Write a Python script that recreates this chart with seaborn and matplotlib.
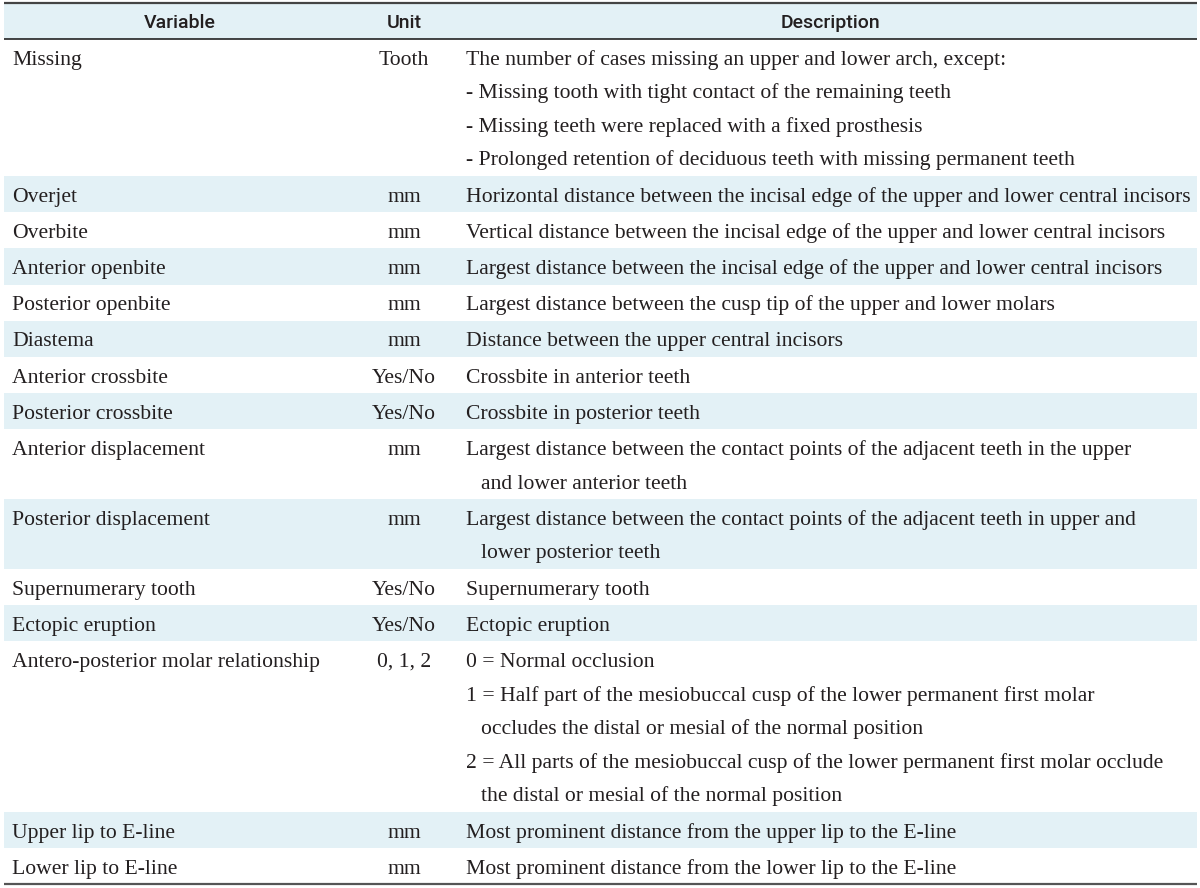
import matplotlib
matplotlib.use("Agg")
import matplotlib.pyplot as plt
from matplotlib.patches import Rectangle
import seaborn as sns

# ---------------- data ----------------
headers = ["Variable", "Unit", "Description"]

variables = [
    "Missing",
    "Overjet",
    "Overbite",
    "Anterior openbite",
    "Posterior openbite",
    "Diastema",
    "Anterior crossbite",
    "Posterior crossbite",
    "Anterior displacement",
    "Posterior displacement",
    "Supernumerary tooth",
    "Ectopic eruption",
    "Antero-posterior molar relationship",
    "Upper lip to E-line",
    "Lower lip to E-line",
]

units = [
    "Tooth", "mm", "mm", "mm", "mm", "mm", "Yes/No", "Yes/No",
    "mm", "mm", "Yes/No", "Yes/No", "0, 1, 2", "mm", "mm",
]

descriptions = [
    ["The number of cases missing an upper and lower arch, except:",
     "- Missing tooth with tight contact of the remaining teeth",
     "- Missing teeth were replaced with a fixed prosthesis",
     "- Prolonged retention of deciduous teeth with missing permanent teeth"],
    ["Horizontal distance between the incisal edge of the upper and lower central incisors"],
    ["Vertical distance between the incisal edge of the upper and lower central incisors"],
    ["Largest distance between the incisal edge of the upper and lower central incisors"],
    ["Largest distance between the cusp tip of the upper and lower molars"],
    ["Distance between the upper central incisors"],
    ["Crossbite in anterior teeth"],
    ["Crossbite in posterior teeth"],
    ["Largest distance between the contact points of the adjacent teeth in the upper",
     "and lower anterior teeth"],
    ["Largest distance between the contact points of the adjacent teeth in upper and",
     "lower posterior teeth"],
    ["Supernumerary tooth"],
    ["Ectopic eruption"],
    ["0 = Normal occlusion",
     "1 = Half part of the mesiobuccal cusp of the lower permanent first molar",
     "occludes the distal or mesial of the normal position",
     "2 = All parts of the mesiobuccal cusp of the lower permanent first molar occlude",
     "the distal or mesial of the normal position"],
    ["Most prominent distance from the upper lip to the E-line"],
    ["Most prominent distance from the lower lip to the E-line"],
]

# ---------------- style ----------------
sns.set_theme(style="white")
plt.rcParams["font.family"] = ["Liberation Serif", "DejaVu Serif"]

TEXT = "#231f20"
SHADE = "#e3f1f6"
W, H = 1200, 888

fig = plt.figure(figsize=(W / 100, H / 100), dpi=100)
ax = fig.add_axes([0, 0, 1, 1])
ax.set_xlim(0, W)
ax.set_ylim(H, 0)
ax.axis("off")

x0, x1 = 4, 1197
col_var_x = 12
col_unit_c = 404
col_desc_x = 466
col_desc_indent = 481

# fit body font size so the longest single line spans the measured width
renderer = fig.canvas.get_renderer()
probe = ax.text(0, 0, descriptions[1][0], fontsize=15)
bb = probe.get_window_extent(renderer=renderer)
probe.remove()
body_fs = 15 * 727.0 / bb.width

head_top, head_bot = 3, 39
single_h = 36.2
line_gap = 33.6

# header
ax.add_patch(Rectangle((x0, head_top), x1 - x0, head_bot - head_top,
                       facecolor=SHADE, edgecolor="none", zorder=0))
hfont = dict(family=["Roboto", "DejaVu Sans"], fontsize=14,
             fontweight="medium", color=TEXT, va="baseline", ha="center")
hy = (head_top + head_bot) / 2 + 7.5
ax.text(180, hy, headers[0], **hfont)
ax.text(col_unit_c, hy, headers[1], **hfont)
ax.text(830, hy, headers[2], **hfont)

# body rows
y = head_bot
for i, (var, unit, desc) in enumerate(zip(variables, units, descriptions)):
    n = len(desc)
    h = single_h + (n - 1) * line_gap
    if i % 2 == 1:
        ax.add_patch(Rectangle((x0, y), x1 - x0, h, facecolor=SHADE,
                               edgecolor="none", zorder=0))
    base = y + single_h / 2 + 7.5
    ax.text(col_var_x, base, var, fontsize=body_fs, color=TEXT,
            va="baseline", ha="left")
    ax.text(col_unit_c, base, unit, fontsize=body_fs, color=TEXT,
            va="baseline", ha="center")
    for k, line in enumerate(desc):
        lx = col_desc_indent if line[:1].islower() else col_desc_x
        ax.text(lx, base + k * line_gap, line, fontsize=body_fs, color=TEXT,
                va="baseline", ha="left")
    y += h

# rules
ax.plot([x0, x1], [head_top, head_top], color="#444444", lw=1.6, solid_capstyle="butt")
ax.plot([x0, x1], [head_bot, head_bot], color="#111111", lw=1.1, solid_capstyle="butt")
ax.plot([x0, x1], [y, y], color="#555555", lw=1.6, solid_capstyle="butt")

fig.savefig("out.png", dpi=100, facecolor="white")
